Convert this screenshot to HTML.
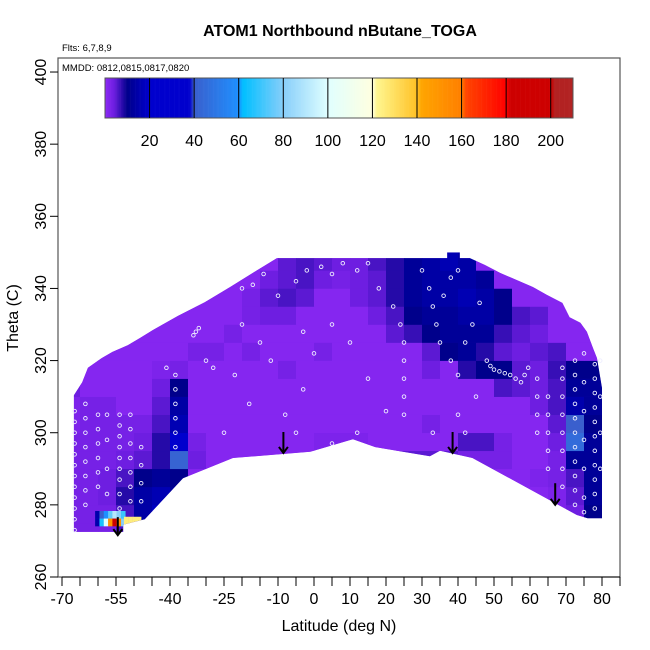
<!DOCTYPE html>
<html><head><meta charset="utf-8">
<style>
html,body{margin:0;padding:0;background:#fff;}
svg{display:block;font-family:"Liberation Sans",Arial,sans-serif;}
</style></head>
<body>
<svg id="chart" width="650" height="650" viewBox="0 0 650 650">
<defs><clipPath id="domainClip"><polygon id="domainPoly" points=""/></clipPath></defs>
<rect x="0" y="0" width="650" height="650" fill="#fff"/>
<text x="340" y="36" text-anchor="middle" font-size="16" font-weight="bold">ATOM1 Northbound nButane_TOGA</text>
<text x="62" y="51" font-size="9.5">Flts: 6,7,8,9</text>
<g id="heat"></g>
<g id="marks"></g>
<rect x="58" y="58" width="562" height="519" fill="none" stroke="#555" stroke-width="1.2"/>
<text x="62" y="71" font-size="9.5">MMDD: 0812,0815,0817,0820</text>
<g id="cbar"></g>
<g id="axes"></g>
<text x="339" y="631" text-anchor="middle" font-size="16">Latitude (deg N)</text>
<text transform="translate(18,318) rotate(-90)" text-anchor="middle" font-size="16">Theta (C)</text>
</svg>
<script>
// ---- data ----
const gridLat0 = -70, gridLatStep = 5, gridTheta0 = 270, gridThetaStep = 5;
const baseVal = 1;
const row0  = [3,3,3,6,1,1,1,1,1,1,1,1,1,1,1,1,1,1,1,1,1,1,1,1,1,1,1,1,6,6];
const row1  = [3,3,3,6,14,18,1,1,1,1,1,1,1,1,1,1,1,1,1,1,1,1,1,1,1,1,1,2,4,10];
const row2  = [3,3,4,8,14,16,12,1,1,1,1,1,1,1,1,1,1,1,1,1,1,1,1,1,1,1,1,2,5,12];
const row3  = [3,3,4,6,10,12,10,1,1,1,1,1,1,1,1,1,1,1,1,1,1,1,1,1,1,1,2,3,6,12];
const row4  = [3,3,3,4,5,8,42,4,1,1,1,1,1,1,1,1,1,1,5,5,5,5,3,3,3,1,1,3,12,12];
const row5  = [3,3,3,3,4,8,32,3,1,1,1,1,1,1,2,2,2,1,1,1,1,1,6,6,3,1,1,4,45,12];
const row6  = [2,3,3,3,3,6,16,1,1,1,1,1,1,1,1,1,1,1,1,1,3,1,1,1,1,1,1,5,40,10];
const row7  = [2,3,3,1,1,5,14,1,1,1,1,1,1,1,1,1,1,1,1,1,1,1,1,1,1,1,4,6,15,12];
const row8  = [4,1,1,1,1,4,10,1,1,1,1,1,1,1,1,1,1,1,1,1,1,1,1,1,6,5,4,6,12,12];
const row9  = [1,1,1,1,1,2,3,1,1,1,1,1,3,1,1,1,1,1,1,1,4,1,8,10,10,5,4,7,10,10];
const row10 = [1,1,1,1,1,1,1,3,3,1,3,1,1,1,3,1,1,1,1,1,5,10,12,8,5,4,5,6,1,1];
const row11 = [1,1,1,1,1,1,1,1,1,3,1,1,1,1,1,1,1,1,5,7,10,12,12,12,7,5,4,1,1,1];
const row12 = [1,1,1,1,1,1,1,1,1,1,3,4,4,1,1,1,1,4,6,10,12,12,14,14,10,6,5,1,1,1];
const row13 = [1,1,1,1,1,1,1,1,1,1,3,5,6,5,1,1,4,5,8,12,14,14,16,14,10,1,1,1,1,1];
const row14 = [1,1,1,1,1,1,1,1,1,1,1,4,5,6,4,3,4,5,8,12,14,14,14,12,1,1,1,1,1,1];
const row15 = [1,1,1,1,1,1,1,1,1,1,1,1,5,6,5,4,4,6,8,12,14,16,14,1,1,1,1,1,1,1];
const gridRows = [row0,row1,row2,row3,row4,row5,row6,row7,row8,row9,row10,row11,row12,row13,row14,row15];

const hotLat   = [-60.8,-59.6,-58.4,-57.2,-56,-54.8,-53.6, -60.8,-59.6,-58.4,-57.2,-56,-54.8,-53.6, -52.8,-51.6,-50.4,-49.2];
const hotTheta = [276.2,276.2,276.2,276.2,276.2,276.2,276.2, 274.1,274.1,274.1,274.1,274.1,274.1,274.1, 274.6,274.6,274.6,274.6];
const hotVal   = [15,40,60,75,90,80,70, 15,65,100,150,190,150,80, 125,125,125,125];

const domainLat   = [-66.7,-66.7,-64.4,-62.8,-59,-56,-51.7,-48.3,-44.7,-37.8,-30.3,-23.3,-17,-10.3,37,37,40.5,40.5,43.3,47.5,51.7,56.4,60.8,64.7,69,71,74,75.8,77.5,78.6,80,80,76,73,44,35,32.2,17,10.8,-1,-22.5,-36.4,-47,-53,-53];
const domainTheta = [272.5,310.4,314,318,320.7,322.4,324.3,326.3,328.5,332.4,336.2,340.4,344.3,348.4,348.4,350,350,348.4,348.4,346.5,344.3,342.3,340.4,338.2,336,332,330.5,328,323.5,320.7,312.4,276.3,276.3,277.2,293,295,293.5,296,298.2,294.7,293,287.4,276,274.5,272.5];

const ptLat = [
 -66.5,-66.5,-66.5,-66.5,-66.5,-66.5,-66.5,-66.5,-66.5,-66.5,-66.5,-66.5,
 -63.5,-63.5,-63.5,-63.5,-63.5,-63.5,-63.5,-63.5,
 -60,-60,-60,-60,-60,-60,
 -57.5,-57.5,-57.5,-57.5,
 -54,-54,-54,-54,-54,-54,-54,-54,-54,
 -51,-51,-51,-51,-51,-51,-51,
 -48,-48,-48,-48,
 -38.5,-38.5,-38.5,-38.5,-38.5,-38.5,-41,
 -33.5,-32.8,-32,
 -28,-22,-20,-15,-12,-8,-5,-3,-18,-25,-30,-10,-5,-2,2,5,8,-14,-17,-20,12,15,18,22,24,25,25,25,25,25,20,15,10,5,0,-3,30,32,33,34,35,36,38,38,40,42,44,45,40,33,42,46,40,12,5,
 48,49,50,51.5,53,54.5,56,57.5,58.5,59.5,
 62,62,62,62, 65,65,65,65,65,
 69,69,69,69,69,69,69,69,
 72.5,72.5,72.5,72.5,72.5,72.5,72.5,72.5,72.5,72.5,72.5,
 75,75,75,75,75,75,75,
 78,78,78,78,78,78,78,78,78,78,78,
 79.5,79.5,79.5,79.5];
const ptTheta = [
 273,276,279,282,285,288,291,294,297,300,303,306,
 280,284,288,292,296,300,304,308,
 285,289,293,297,301,305,
 283,290,298,305,
 279,283,287,290,293,296,299,302,305,
 281,285,289,293,297,301,305,
 281,286,291,296,
 296,300,304,308,312,316,318,
 327,328,329,
 318,316,330,325,320,305,300,312,308,300,320,338,342,345,346,344,347,344,341,340,345,347,340,335,330,325,320,315,310,305,306,315,325,330,322,328,345,340,335,330,325,338,343,320,316,325,330,310,305,300,300,336,345,300,297,
 320,318.5,317.5,317,316.5,316,315,314,316,318,
 300,305,310,315, 290,295,300,305,310,
 285,290,295,300,305,310,315,318,
 280,284,288,292,296,300,304,308,312,316,320,
 278,282,290,298,306,314,322,
 279,283,287,291,295,299,303,307,311,315,319,
 290,300,310,320];

const arrowLat = [-54.5,-8.5,38.5,67];
const arrowTop = [276.6,300.2,300.2,286];
const arrowBot = [271.6,294.4,294.4,280];

const xTickVals  = [-70,-65,-60,-55,-50,-45,-40,-35,-30,-25,-20,-15,-10,-5,0,5,10,15,20,25,30,35,40,45,50,55,60,65,70,75,80,85];
const xLabelVals = [-70,-55,-40,-25,-10,0,10,20,30,40,50,60,70,80];
const yTickVals  = [260,280,300,320,340,360,380,400];
const cbarLabels = [20,40,60,80,100,120,140,160,180,200];
const cbarMin = 0, cbarMax = 210;

// ---- scales ----
const NS = 'http://www.w3.org/2000/svg';
function X(lat){ return 62 + (lat + 70) * 3.6; }
function Y(t){ return 577 - (t - 260) * 3.607; }
function CX(v){ return 105 + (v - cbarMin) * (468 / (cbarMax - cbarMin)); }
const stops = [[0,[140,40,245]],[4,[110,30,225]],[10,[0,0,139]],[20,[0,0,205]],[38,[0,0,205]],[40,[58,95,205]],[60,[30,144,255]],[62,[0,191,255]],[80,[135,206,250]],[100,[224,255,255]],[120,[255,255,224]],[122,[255,246,143]],[140,[255,193,37]],[142,[255,165,0]],[160,[255,127,0]],[162,[255,69,0]],[180,[255,0,0]],[182,[205,0,0]],[200,[205,0,0]],[202,[178,34,34]],[210,[178,34,34]]];
function col(v){
  if (v <= stops[0][0]) return 'rgb(' + stops[0][1].join(',') + ')';
  for (let i = 1; i < stops.length; i++) {
    if (v <= stops[i][0]) {
      const a = stops[i-1], b = stops[i], f = (v - a[0]) / (b[0] - a[0]);
      const c = a[1].map((x, k) => Math.round(x + (b[1][k] - x) * f));
      return 'rgb(' + c.join(',') + ')';
    }
  }
  return 'rgb(' + stops[stops.length-1][1].join(',') + ')';
}
function mk(tag, attrs, parent){
  const e = document.createElementNS(NS, tag);
  for (const k in attrs) e.setAttribute(k, attrs[k]);
  parent.appendChild(e);
  return e;
}

const poly = document.getElementById('domainPoly');
poly.setAttribute('points', domainLat.map((l, i) => X(l).toFixed(1) + ',' + Y(domainTheta[i]).toFixed(1)).join(' '));
const heat = document.getElementById('heat');
heat.setAttribute('clip-path', 'url(#domainClip)');

const base = mk('polygon', {points: poly.getAttribute('points'), fill: col(baseVal)}, heat);



gridRows.forEach((row, r) => {
  row.forEach((v, c) => {
    const lat = gridLat0 + c * gridLatStep, t = gridTheta0 + r * gridThetaStep;
    const x0 = X(lat), x1 = X(lat + gridLatStep), y0 = Y(t + gridThetaStep), y1 = Y(t);
    const e = mk('rect', {x: x0.toFixed(2), y: y0.toFixed(2), width: (x1 - x0 + 0.3).toFixed(2), height: (y1 - y0 + 0.3).toFixed(2), fill: col(v)}, heat);
    
    
  });
});
hotVal.forEach((v, i) => {
  const x0 = X(hotLat[i]), x1 = X(hotLat[i] + 1.2), y0 = Y(hotTheta[i] + 2.1), y1 = Y(hotTheta[i]);
  const e = mk('rect', {x: x0.toFixed(2), y: y0.toFixed(2), width: (x1 - x0 + 0.2).toFixed(2), height: (y1 - y0 + 0.2).toFixed(2), fill: col(v)}, heat);
  
  
});

const marks = document.getElementById('marks');
ptLat.forEach((l, i) => {
  const e = mk('circle', {cx: X(l).toFixed(1), cy: Y(ptTheta[i]).toFixed(1), r: 1.8, fill: 'none', stroke: '#eeeeff', 'stroke-width': 0.9}, marks);
  
  
});
arrowLat.forEach((l, i) => {
  const g = mk('g', {}, marks);
  
  
  const x = X(l), yt = Y(arrowTop[i]), yb = Y(arrowBot[i]);
  mk('line', {x1: x, y1: yt, x2: x, y2: yb, stroke: '#000', 'stroke-width': 2}, g);
  mk('polyline', {points: (x-4.5)+','+(yb-6)+' '+x+','+yb+' '+(x+4.5)+','+(yb-6), fill: 'none', stroke: '#000', 'stroke-width': 2}, g);
});

const cbar = document.getElementById('cbar');
for (let v = cbarMin; v < cbarMax; v += 0.5) {
  const e = mk('rect', {x: CX(v).toFixed(2), y: 78, width: (CX(v + 0.5) - CX(v) + 0.3).toFixed(2), height: 40, fill: col(v + 0.25)}, cbar);
  
  
}
const cbFrame = mk('rect', {x: 105, y: 78, width: 468, height: 40, fill: 'none', stroke: '#555', 'stroke-width': 1}, cbar);


cbarLabels.forEach(v => {
  const l = mk('line', {x1: CX(v), y1: 78, x2: CX(v), y2: 118, stroke: '#000', 'stroke-width': 1}, cbar);
  
  
  const t = mk('text', {x: CX(v), y: 146, 'text-anchor': 'middle', 'font-size': 16}, cbar);
  t.textContent = v;
  
  
});

const axes = document.getElementById('axes');
xTickVals.forEach(v => {
  const l = mk('line', {x1: X(v), y1: 577, x2: X(v), y2: 586, stroke: '#000', 'stroke-width': 1}, axes);
  
  
});
const xa = mk('line', {x1: X(-70), y1: 577, x2: X(85), y2: 577, stroke: '#000', 'stroke-width': 1}, axes);


xLabelVals.forEach(v => {
  const t = mk('text', {x: X(v), y: 604, 'text-anchor': 'middle', 'font-size': 16}, axes);
  t.textContent = v;
  
  
});
yTickVals.forEach(v => {
  const l = mk('line', {x1: 50, y1: Y(v), x2: 58, y2: Y(v), stroke: '#000', 'stroke-width': 1}, axes);
  
  
  const t = mk('text', {transform: 'translate(46,' + Y(v) + ') rotate(-90)', 'text-anchor': 'middle', 'font-size': 16}, axes);
  t.textContent = v;
  
  
});
</script>
</body></html>
